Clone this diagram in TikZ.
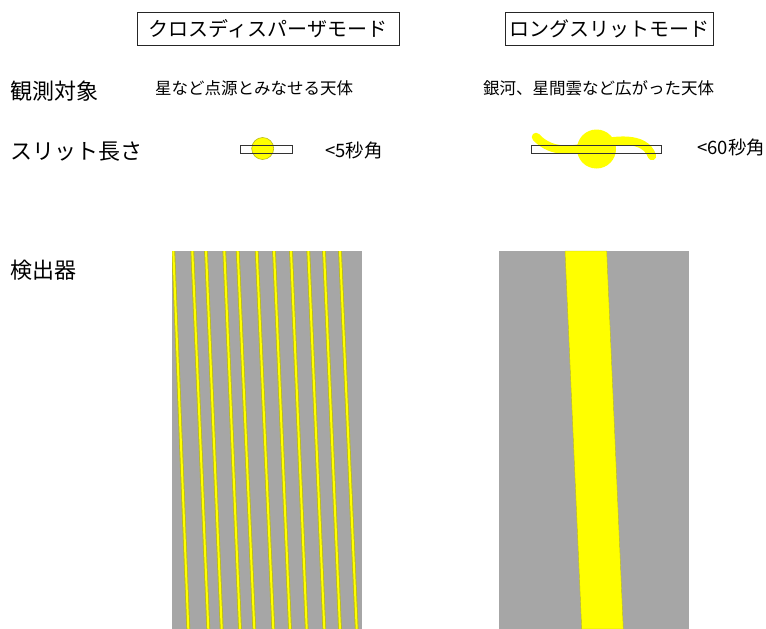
\documentclass[tikz,border=0pt]{standalone}
\usepackage{fontspec}
\setmainfont{Noto Sans CJK JP}
\definecolor{detgray}{RGB}{166,166,166}
\definecolor{lineedge}{RGB}{185,185,30}
\definecolor{brightyellow}{RGB}{255,255,0}
\begin{document}
\begin{tikzpicture}[x=1pt,y=-1pt,
  modebox/.style={draw=black!85, line width=0.9pt, fill=white, inner sep=0pt,
    minimum height=33pt, font=\fontsize{20}{20}\selectfont},
  rowlabel/.style={anchor=west, inner sep=0pt, font=\fontsize{22}{22}\selectfont},
  desc/.style={anchor=west, inner sep=0pt, font=\fontsize{16.5}{17}\selectfont},
  sizelabel/.style={anchor=west, inner sep=0pt, font=\fontsize{18.5}{19}\selectfont},
  slitbox/.style={draw=black!80, line width=0.8pt},
  detector/.style={fill=detgray},
  specedge/.style={draw=lineedge, line width=3.8pt},
  speccore/.style={draw=brightyellow, line width=2pt},
  starcirc/.style={fill=brightyellow, draw=lineedge, line width=0.6pt},
  nebula/.style={draw=brightyellow, line width=8.5pt, line cap=round}]
\useasboundingbox (0,0) rectangle (766,629);

% mode titles
\node[modebox, minimum width=262pt] (cdtitle) at (268,28.5) {クロスディスパーザモード};
\node[modebox, minimum width=208pt] (lstitle) at (609,28.5) {ロングスリットモード};

% row labels
\node[rowlabel] (target) at (10,91) {観測対象};
\node[rowlabel] (slitlen) at (10,152) {スリット長さ};
\node[rowlabel] (det) at (10,270) {検出器};

% descriptions
\node[desc] (pointsrc) at (155,88) {星など点源とみなせる天体};
\node[desc] (extsrc) at (483,88) {銀河、星間雲など広がった天体};

% slit sizes
\node[sizelabel] (short) at (325,150) {<5秒角};
\node[sizelabel] (long) at (697,147) {<60秒角};

% short slit with star
\filldraw[starcirc] (262.7,148.5) circle[radius=11];
\draw[slitbox] (240.7,145) rectangle (292.3,153.3);

% long slit with extended object
\draw[nebula] (536,137) .. controls (548,150) and (565,153) .. (590,146)
  .. controls (615,139) and (645,136) .. (652,156);
\fill[brightyellow] (596.5,149) circle[radius=19.5];
\draw[slitbox] (531,145) rectangle (661,153.3);

% cross-disperser detector
\fill[detector] (172,251) rectangle (362,629);
\begin{scope}
\clip (172,251) rectangle (362,629);
\foreach \a/\b in {173.3/188.3, 192.3/208.3, 206/221.7, 224.3/240, 237.7/254.3,
  256.7/273.3, 274/290, 291/306.7, 308.3/324.3, 324/340, 340/356.7} {
  \draw[specedge] (\a,251) -- (\b,629);
  \draw[speccore] (\a,251) -- (\b,629);
}
\end{scope}

% long-slit detector
\fill[detector] (499,251) rectangle (689,629);
\fill[brightyellow, draw=lineedge, line width=0.4pt] (565,251) -- (606.7,251) -- (623.3,629) -- (581.7,629) -- cycle;
\end{tikzpicture}
\end{document}
